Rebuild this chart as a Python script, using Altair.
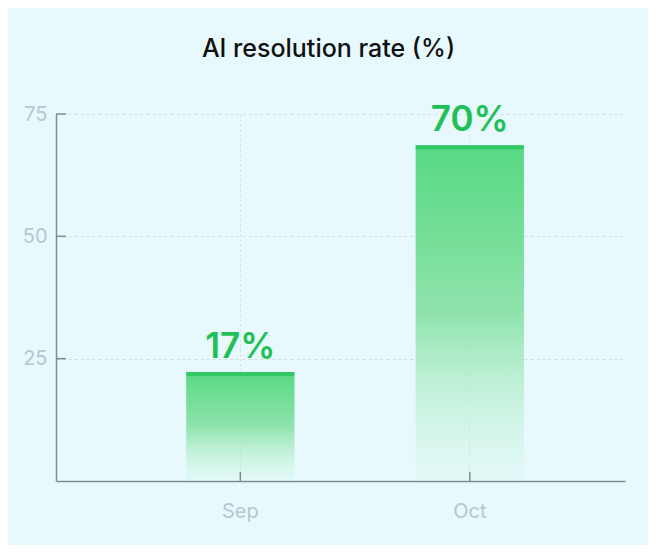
import altair as alt
import pandas as pd

months = ["Sep", "Oct"]
values = [22.3, 68.6]
labels = ["17%", "70%"]
y_ticks = [25, 50, 75]

df = pd.DataFrame({"month": months, "value": values, "label": labels})
tick_df = pd.DataFrame({"t": y_ticks})

W, H = 569, 367
GREEN = "#1fc157"
AXIS = "#7d8c93"
LABEL = "#b8c6ce"
GRID = "#cfdde3"
FONT = "Inter"

gradient = alt.Gradient(
    gradient="linear",
    x1=0, y1=0, x2=0, y2=1,
    stops=[
        alt.GradientStop(color="#57d982", offset=0),
        alt.GradientStop(color="#8fe3ac", offset=0.5),
        alt.GradientStop(color="rgba(200,245,220,0.15)", offset=1),
    ],
)

x_enc = alt.X(
    "month:N",
    sort=months,
    scale=alt.Scale(paddingInner=0.528, paddingOuter=0.504, align=0.563),
    axis=alt.Axis(
        title=None, labelAngle=0, ticks=False, grid=True, gridDash=[2, 3],
        gridColor=GRID, bandPosition=0.5, domainColor=AXIS, domainWidth=1.5,
        labelColor=LABEL, labelFontSize=20, labelPadding=20, labelFont=FONT,
    ),
)
y_enc = alt.Y(
    "value:Q",
    scale=alt.Scale(domain=[0, 75], nice=False, zero=True),
    axis=alt.Axis(
        title=None, values=y_ticks, ticks=False, grid=True, gridDash=[3, 3],
        gridColor=GRID, domainColor=AXIS, domainWidth=1.5,
        labelColor=LABEL, labelFontSize=20, labelPadding=9, labelFont=FONT,
    ),
)

base = alt.Chart(df)

bars = base.mark_bar(fill=gradient).encode(x=x_enc, y=y_enc)
tops = base.mark_tick(thickness=4, size=108, color=GREEN).encode(
    x=alt.X("month:N", sort=months), y="value:Q", yOffset=alt.value(2)
)
text = base.mark_text(
    color=GREEN, fontSize=35, fontWeight=600, font=FONT, baseline="bottom", dy=-7
).encode(x=alt.X("month:N", sort=months), y="value:Q", text="label:N")

xticks = base.mark_rule(color=AXIS, strokeWidth=1.5).encode(
    x=alt.X("month:N", sort=months), y=alt.value(H), y2=alt.value(H - 9)
)
yticks = alt.Chart(tick_df).mark_rule(color=AXIS, strokeWidth=1.5).encode(
    y="t:Q", x=alt.value(0), x2=alt.value(10)
)

chart = (
    alt.layer(bars, tops, text, xticks, yticks)
    .properties(
        width=W, height=H,
        title=alt.TitleParams(
            "AI resolution rate (%)", fontSize=25, fontWeight=500, font=FONT,
            color="#111111", anchor="middle", dx=-12, offset=41,
        ),
        autosize=alt.AutoSizeParams(type="none"),
        padding={"left": 48, "top": 106, "right": 23, "bottom": 64},
        background="#e7f9fd",
    )
    .configure_view(strokeWidth=0)
)

chart.save("out.html", embed_options={"renderer": "svg", "actions": False})
